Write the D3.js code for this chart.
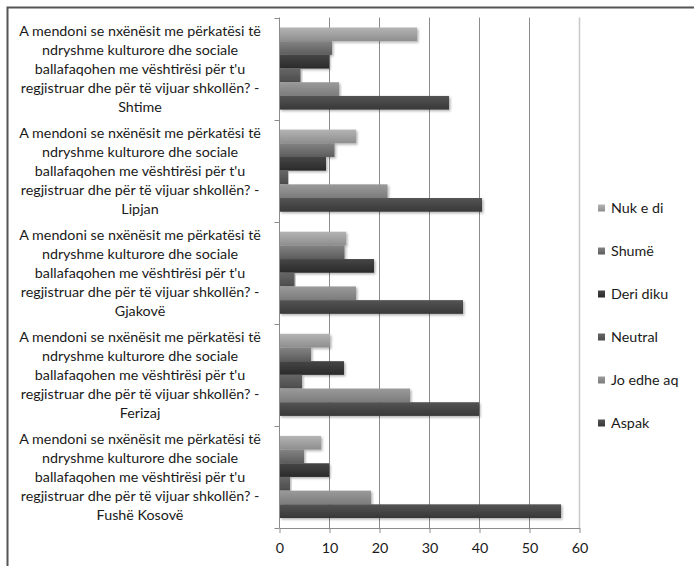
<!DOCTYPE html>
<html>
<head>
<meta charset="utf-8">
<script src="https://cdn.jsdelivr.net/npm/d3@7"></script>
<style>
  html, body { margin: 0; padding: 0; background: #fff; }
  svg { display: block; }
  text { font-family: Lato, "Open Sans", sans-serif; }
</style>
</head>
<body>
<div id="chart"></div>
<script>
// ---------- DATA ----------
const places = ["Shtime", "Lipjan", "Gjakovë", "Ferizaj", "Fushë Kosovë"];
const questionLines = [
  "A mendoni se nxënësit me përkatësi të",
  "ndryshme kulturore dhe sociale",
  "ballafaqohen me vështirësi për t'u",
  "regjistruar dhe për të vijuar shkollën? -"
];
const seriesNames = ["Nuk e di", "Shumë", "Deri diku", "Neutral", "Jo edhe aq", "Aspak"];
const nukEDi   = [27.5, 15.3, 13.3, 10.1, 8.3];
const shume    = [10.5, 11.0, 13.0, 6.3, 4.9];
const deriDiku = [9.9, 9.3, 18.9, 12.9, 9.9];
const neutral  = [4.2, 1.7, 3.0, 4.5, 2.1];
const joEdheAq = [11.9, 21.6, 15.3, 26.1, 18.3];
const aspak    = [33.9, 40.5, 36.7, 39.9, 56.3];
const xTicks = [0, 10, 20, 30, 40, 50, 60];

const seriesValues = [nukEDi, shume, deriDiku, neutral, joEdheAq, aspak];
const seriesColors = [
  ["#b4b4b4", "#8e8e8e"],
  ["#838383", "#5c5c5c"],
  ["#464646", "#2a2a2a"],
  ["#666666", "#4c4c4c"],
  ["#9a9a9a", "#7c7c7c"],
  ["#545454", "#383838"]
];

// ---------- LAYOUT ----------
const W = 694, H = 566;
const plot = { left: 279.5, right: 579.5, top: 17.5, bottom: 528 };
const FS = 14.3;

const svg = d3.select("#chart").append("svg").attr("width", W).attr("height", H);
const defs = svg.append("defs");

seriesColors.forEach((c, i) => {
  const g = defs.append("linearGradient").attr("id", "grad" + i)
    .attr("x1", 0).attr("y1", 0).attr("x2", 0).attr("y2", 1);
  g.append("stop").attr("offset", "0%").attr("stop-color", c[0]);
  g.append("stop").attr("offset", "100%").attr("stop-color", c[1]);
});
const f = defs.append("filter").attr("id", "shadow")
  .attr("x", "-5%").attr("y", "-20%").attr("width", "115%").attr("height", "160%");
f.append("feDropShadow").attr("dx", 1.5).attr("dy", 1.5).attr("stdDeviation", 1)
  .attr("flood-color", "#000").attr("flood-opacity", 0.3);

// outer frame (only top and left visible)
svg.append("rect").attr("x", 7.5).attr("y", 7.5).attr("width", W + 10).attr("height", H + 10)
  .attr("fill", "none").attr("stroke", "#555").attr("stroke-width", 2);

const x = d3.scaleLinear().domain([0, 60]).range([plot.left, plot.right]);
const y0 = d3.scaleBand().domain(places).range([plot.top, plot.bottom]).padding(0);
const y1 = d3.scaleBand().domain(seriesNames).range([0, y0.bandwidth()])
  .paddingInner(0).paddingOuter(0.73);

// gridlines
svg.append("g").selectAll("line").data(xTicks.slice(1)).join("line")
  .attr("x1", d => x(d)).attr("x2", d => x(d))
  .attr("y1", plot.top).attr("y2", plot.bottom)
  .attr("stroke", d => d === 60 ? "#c8c8c8" : "#8c8c8c")
  .attr("stroke-width", d => d === 60 ? 1.5 : 1);

// bars
const rows = [];
places.forEach((p, gi) => {
  seriesNames.forEach((s, si) => {
    rows.push({ place: p, series: s, si, value: seriesValues[si][gi] });
  });
});
svg.append("g").selectAll("rect").data(rows).join("rect")
  .attr("x", x(0))
  .attr("y", d => y0(d.place) + y1(d.series))
  .attr("width", d => x(d.value) - x(0))
  .attr("height", y1.bandwidth())
  .attr("fill", d => "url(#grad" + d.si + ")")
  .attr("filter", "url(#shadow)");

// x axis
const xAxis = svg.append("g").attr("transform", `translate(0,${plot.bottom})`)
  .call(d3.axisBottom(x).tickValues(xTicks).tickSize(5).tickPadding(10).tickSizeOuter(0));
xAxis.select(".domain").attr("stroke", "#8c8c8c");
xAxis.selectAll(".tick line").attr("stroke", "#8c8c8c");
xAxis.selectAll(".tick text").attr("font-size", FS).attr("fill", "#1a1a1a")
  .style("font-family", "Lato, 'Open Sans', sans-serif");

// y axis (left line with boundary ticks)
svg.append("line").attr("x1", plot.left).attr("x2", plot.left)
  .attr("y1", plot.top).attr("y2", plot.bottom).attr("stroke", "#8c8c8c");
const bounds = places.map(p => y0(p)).concat([plot.bottom]);
svg.append("g").selectAll("line").data(bounds).join("line")
  .attr("x1", plot.left - 5).attr("x2", plot.left)
  .attr("y1", d => Math.round(d) + 0.5).attr("y2", d => Math.round(d) + 0.5)
  .attr("stroke", "#8c8c8c");

// category labels
const lh = 19;
places.forEach(p => {
  const lines = questionLines.concat([p]);
  const cy = y0(p) + y0.bandwidth() / 2;
  const t = svg.append("text").attr("text-anchor", "middle")
    .attr("font-size", FS).attr("fill", "#1a1a1a");
  lines.forEach((ln, i) => {
    t.append("tspan").attr("x", 140)
      .attr("y", cy + (i - 2) * lh + 5)
      .text(ln);
  });
});

// legend
const legY = [208, 251, 294, 337, 380, 423];
const leg = svg.append("g");
seriesNames.forEach((s, i) => {
  leg.append("rect").attr("x", 598).attr("y", legY[i] - 3.5).attr("width", 7).attr("height", 7)
    .attr("fill", "url(#grad" + i + ")");
  leg.append("text").attr("x", 611).attr("y", legY[i] + 5)
    .attr("font-size", FS).attr("fill", "#1a1a1a").text(s);
});
</script>
</body>
</html>
